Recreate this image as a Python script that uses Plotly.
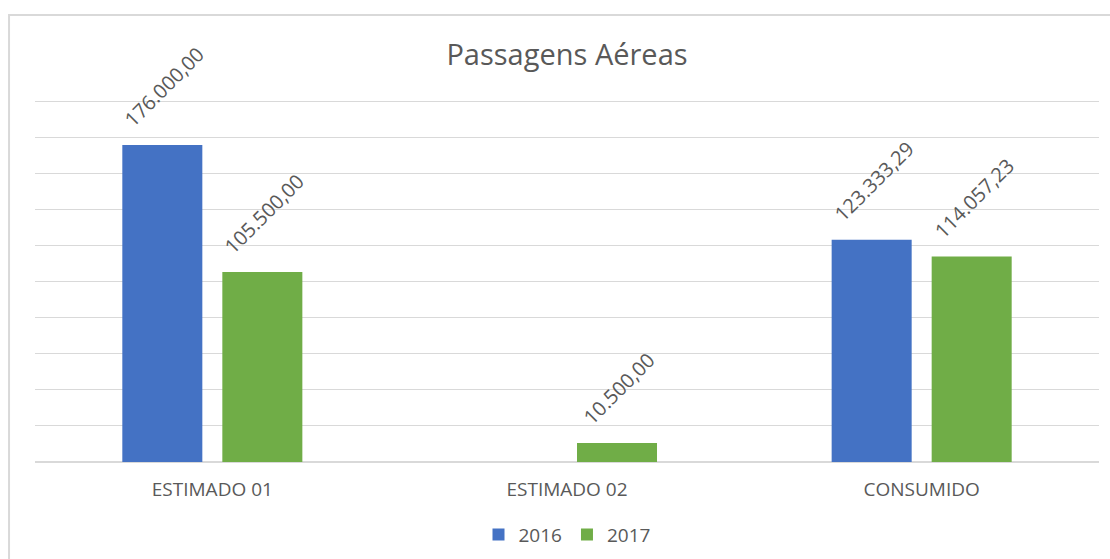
import plotly.graph_objects as go

# =====================================================
# Data
# =====================================================
categories = ["ESTIMADO 01", "ESTIMADO 02", "CONSUMIDO"]
values_2016 = [176000.00, None, 123333.29]
values_2017 = [105500.00, 10500.00, 114057.23]

BLUE = "#4472C4"
GREEN = "#70AD47"
TEXT = "#595959"
GRID = "#D9D9D9"
FONT = "Open Sans"


def fmt_br(v):
    s = f"{v:,.2f}"
    return s.replace(",", "X").replace(".", ",").replace("X", ".")


fig = go.Figure()
fig.add_trace(go.Bar(name="2016", x=categories, y=values_2016,
                     marker=dict(color=BLUE, line=dict(width=0))))
fig.add_trace(go.Bar(name="2017", x=categories, y=values_2017,
                     marker=dict(color=GREEN, line=dict(width=0))))

# rotated data labels, one per bar (bar slot is 100px wide inside the group)
annotations = []
for shift, values in ((-50, values_2016), (50, values_2017)):
    for cat, v in zip(categories, values):
        if v is None:
            continue
        annotations.append(dict(
            x=cat, y=v, xref="x", yref="y",
            text=fmt_br(v),
            showarrow=False,
            textangle=-45,
            xanchor="center",
            yanchor="bottom",
            xshift=shift + 2,
            yshift=10,
            font=dict(family=FONT, size=20, color=TEXT),
        ))

fig.update_layout(
    width=1110,
    height=559,
    barmode="group",
    bargap=0.436,
    bargroupgap=0.2,
    plot_bgcolor="white",
    paper_bgcolor="white",
    margin=dict(l=35, r=11, t=99, b=97, autoexpand=False),
    font=dict(family=FONT, color=TEXT),
    title=dict(
        text="Passagens Aéreas",
        x=0.5,
        xref="paper",
        xanchor="center",
        y=0.9016,
        yanchor="middle",
        font=dict(family=FONT, size=29, color=TEXT),
    ),
    legend=dict(
        orientation="h",
        x=0.5,
        xanchor="center",
        y=-0.2,
        yanchor="middle",
        font=dict(family=FONT, size=19, color=TEXT),
    ),
    annotations=annotations,
    shapes=[
        dict(
            type="rect",
            xref="paper",
            yref="paper",
            x0=-0.0244,
            x1=1.05,
            y0=-0.4,
            y1=1.2314,
            line=dict(color=GRID, width=2),
            fillcolor="rgba(0,0,0,0)",
            layer="below",
        )
    ],
)

fig.update_yaxes(
    range=[0, 201500],
    tick0=0,
    dtick=20000,
    showgrid=True,
    gridcolor=GRID,
    gridwidth=1,
    zeroline=True,
    zerolinecolor=GRID,
    showticklabels=False,
    automargin=False,
    fixedrange=True,
)
fig.update_xaxes(
    showgrid=False,
    showline=False,
    automargin=False,
    fixedrange=True,
    tickfont=dict(family=FONT, size=19, color=TEXT),
    ticks="",
    ticklabelstandoff=14,
)

fig.write_html(
    "out.html",
    config={"displayModeBar": False},
    post_script="document.body.style.margin='0';",
)
